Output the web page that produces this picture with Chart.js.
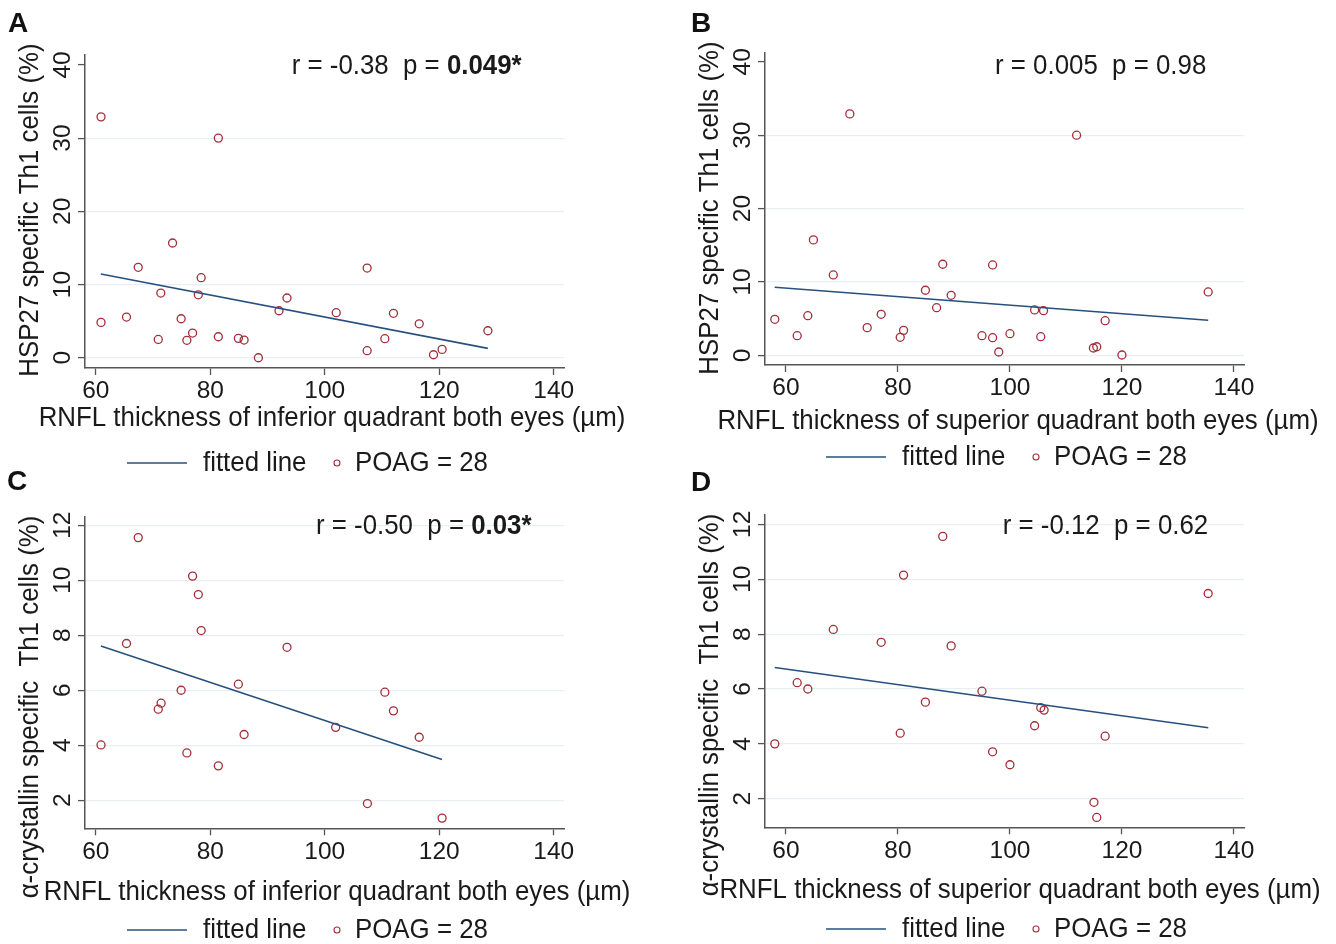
<!DOCTYPE html>
<html>
<head>
<meta charset="utf-8">
<script src="https://cdn.jsdelivr.net/npm/chart.js@4.4.1/dist/chart.umd.min.js"></script>
<style>
  body { margin: 0; background: #fff; width: 1336px; height: 944px; position: relative; overflow: hidden; }
  .panel { position: absolute; width: 668px; height: 478px; }
  .tag { position: absolute; font: bold 28px "Liberation Sans", Arial, sans-serif; line-height: 1; color: #111; }
</style>
</head>
<body>
<div class="panel" style="left:0;top:0"><canvas id="cA"></canvas></div>
<div class="panel" style="left:668px;top:0"><canvas id="cB"></canvas></div>
<div class="panel" style="left:0;top:466px"><canvas id="cC"></canvas></div>
<div class="panel" style="left:668px;top:466px"><canvas id="cD"></canvas></div>
<div class="tag" style="left:8px;top:9px">A</div>
<div class="tag" style="left:691px;top:9px">B</div>
<div class="tag" style="left:7px;top:467px">C</div>
<div class="tag" style="left:691px;top:468px">D</div>
<script>
const FONT = '"Liberation Sans", Arial, Helvetica, sans-serif';
Chart.defaults.font.family = FONT;
Chart.defaults.color = '#1a1a1a';

// --- values ---
const xTicks = [60, 80, 100, 120, 140];
const hspTicks = [0, 10, 20, 30, 40];
const cryTicks = [2, 4, 6, 8, 10, 12];

// A: HSP27 vs inferior RNFL
const infA = [60.9, 60.9, 65.35, 67.4, 70.9, 71.35, 73.4, 74.9, 75.9, 76.9, 77.9, 78.4, 81.4, 81.4,
  84.9, 85.9, 88.4, 92.0, 93.4, 102.0, 107.4, 107.4, 110.5, 112.0, 116.5, 119.0, 120.5, 128.5];
const hspA = [32.9, 4.83, 5.56, 12.35, 2.5, 8.84, 15.67, 5.33, 2.38, 3.37, 8.6, 10.93, 30.0, 2.87,
  2.65, 2.42, 0.0, 6.42, 8.16, 6.15, 12.25, 0.96, 2.6, 6.07, 4.64, 0.41, 1.14, 3.69];
const fitXA = [60.87, 128.5];
const fitYA = [11.43, 1.28];

// B: HSP27 vs superior RNFL
const supB = [58.0, 62.0, 63.9, 64.9, 68.45, 71.4, 74.5, 77.0, 80.4, 81.0, 84.9, 86.9, 88.0, 89.5,
  95.0, 96.9, 96.9, 98.0, 100.0, 104.4, 106.0, 105.5, 111.9, 114.9, 115.5, 117.0, 120.0, 135.4];
const hspB = [4.91, 2.67, 5.4, 15.73, 10.95, 32.9, 3.77, 5.59, 2.45, 3.4, 8.87, 6.49, 12.41, 8.18,
  2.67, 12.32, 2.4, 0.45, 2.95, 6.18, 6.09, 2.54, 30.0, 1.0, 1.17, 4.72, 0.04, 8.64];
const fitXB = [57.98, 135.4];
const fitYB = [9.27, 4.77];

// C: alpha-crystallin vs inferior RNFL
const infC = [60.9, 65.35, 67.4, 70.9, 71.4, 74.9, 75.9, 76.9, 77.9, 78.4, 81.4, 84.9, 85.9, 93.4,
  101.9, 107.45, 110.5, 112.0, 116.5, 120.5];
const cryC = [4.01, 7.70, 11.55, 5.31, 5.53, 6.0, 3.72, 10.15, 9.48, 8.17, 3.25, 6.22, 4.39, 7.56,
  4.65, 1.88, 5.93, 5.25, 4.29, 1.35];
const fitXC = [60.87, 120.49];
const fitYC = [7.61, 3.48];

// D: alpha-crystallin vs superior RNFL
const supD = [58.0, 62.0, 63.9, 68.45, 77.0, 80.4, 81.0, 84.9, 88.0, 89.5, 95.0, 96.9, 100.0, 104.4,
  105.5, 106.1, 115.0, 115.5, 117.0, 135.4];
const cryD = [4.0, 6.23, 6.0, 8.17, 7.70, 4.39, 10.15, 5.52, 11.56, 7.57, 5.92, 3.71, 3.24, 4.66,
  5.32, 5.23, 1.87, 1.32, 4.28, 9.48];
const fitXD = [57.98, 135.42];
const fitYD = [6.78, 4.59];

const xTitleInf = 'RNFL thickness of inferior quadrant both eyes (\u00b5m)';
const xTitleSup = 'RNFL thickness of superior quadrant both eyes (\u00b5m)';
const yTitleHsp = 'HSP27 specific Th1 cells (%)';
const yTitleCry = '\u03b1-crystallin specific  Th1 cells (%)';
const statA = ['r = -0.38  p = ', '0.049*'];
const statB = ['r = 0.005  p = 0.98', ''];
const statC = ['r = -0.50  p = ', '0.03*'];
const statD = ['r = -0.12  p = 0.62', ''];
const seriesLabels = ['fitted line', 'POAG = 28'];

const LINE_COLOR = '#27507e';
const DOT_COLOR = '#a32d38';
const AXIS_COLOR = '#555555';
const GRID_COLOR = '#e6eff1';
const W = 668, H = 478;
const SQ = 0.94;           // the source text is a little narrower than Liberation Sans
const TXT = '27.5px ' + FONT;
const TXT_B = 'bold 27.5px ' + FONT;

const pts = (xs, ys) => xs.map((x, i) => ({ x, y: ys[i] }));

function narrowText(ctx, text, x, y, rot) {
  ctx.save();
  ctx.translate(x, y);
  if (rot) ctx.rotate(rot);
  ctx.scale(SQ, 1);
  ctx.fillText(text, 0, 0);
  ctx.restore();
}

// text that Stata places by hand: rotated y labels, titles, r/p note, legend
const panelText = {
  id: 'panelText',
  afterDraw(chart, args, o) {
    const { ctx, chartArea: a, scales: { y } } = chart;
    const dx = o.ox, dy = o.oy;
    ctx.save();
    ctx.fillStyle = '#1a1a1a';
    ctx.font = '24.5px ' + FONT;
    ctx.textAlign = 'center';
    ctx.textBaseline = 'middle';
    y.ticks.forEach(t => {
      ctx.save();
      ctx.translate(a.left - 22, y.getPixelForValue(t.value));
      ctx.rotate(-Math.PI / 2);
      ctx.fillText(String(t.value), 0, 0);
      ctx.restore();
    });

    ctx.font = TXT;
    narrowText(ctx, o.xTitle, o.xt[0] - dx, o.xt[1] - dy);
    narrowText(ctx, o.yTitle, o.yt[0] - dx, o.yt[1] - dy, -Math.PI / 2);

    ctx.textAlign = 'left';
    ctx.textBaseline = 'alphabetic';
    let sx = o.st[0] - dx;
    narrowText(ctx, o.stat[0], sx, o.st[1] - dy);
    if (o.stat[1]) {
      sx += ctx.measureText(o.stat[0]).width * SQ;
      ctx.font = TXT_B;
      narrowText(ctx, o.stat[1], sx, o.st[1] - dy);
    }

    const lx = o.leg[0] - dx, ly = o.leg[1] - dy;
    const ds = chart.data.datasets;
    ctx.strokeStyle = LINE_COLOR;
    ctx.lineWidth = 1.6;
    ctx.beginPath(); ctx.moveTo(lx, ly); ctx.lineTo(lx + 60, ly); ctx.stroke();
    ctx.font = TXT;
    ctx.textBaseline = 'middle';
    narrowText(ctx, ds[0].label, lx + 76, ly);
    ctx.strokeStyle = DOT_COLOR;
    ctx.lineWidth = 1.1;
    ctx.beginPath(); ctx.arc(lx + 210, ly, 3, 0, Math.PI * 2); ctx.stroke();
    narrowText(ctx, ds[1].label, lx + 228, ly);
    ctx.restore();
  }
};

const panels = [
  { id: 'cA', ox: 0, oy: 0, area: [85, 55, 564, 368], xr: [58.1, 141.8], yr: [-1.4, 41.35],
    yTicks: hspTicks, noGrid: [40], xs: infA, ys: hspA, fx: fitXA, fy: fitYA,
    xTitle: xTitleInf, xt: [332, 418], yTitle: yTitleHsp, yt: [30, 210],
    stat: statA, st: [291.7, 74], leg: [127, 463] },
  { id: 'cB', ox: 668, oy: 0, area: [765, 53, 1244, 365], xr: [56.25, 141.8], yr: [-1.32, 41.2],
    yTicks: hspTicks, noGrid: [40], xs: supB, ys: hspB, fx: fitXB, fy: fitYB,
    xTitle: xTitleSup, xt: [1018, 421], yTitle: yTitleHsp, yt: [710, 208],
    stat: statB, st: [995, 74], leg: [826, 457] },
  { id: 'cC', ox: 0, oy: 466, area: [85, 516.7, 564, 828.3], xr: [58.1, 141.8], yr: [0.98, 12.31],
    yTicks: cryTicks, noGrid: [], xs: infC, ys: cryC, fx: fitXC, fy: fitYC,
    xTitle: xTitleInf, xt: [337, 892], yTitle: yTitleCry, yt: [30, 707],
    stat: statC, st: [316, 534], leg: [127, 930] },
  { id: 'cD', ox: 668, oy: 466, area: [765, 515, 1244, 827.3], xr: [56.25, 141.8], yr: [0.96, 12.34],
    yTicks: cryTicks, noGrid: [], xs: supD, ys: cryD, fx: fitXD, fy: fitYD,
    xTitle: xTitleSup, xt: [1020, 890], yTitle: yTitleCry, yt: [710, 705],
    stat: statD, st: [1002.7, 534], leg: [826, 929] }
];

function buildPanel(p) {
  const [L, T, R, B] = p.area;
  new Chart(document.getElementById(p.id), {
    type: 'scatter',
    data: {
      datasets: [
        { label: seriesLabels[0], data: pts(p.fx, p.fy), showLine: true, borderColor: LINE_COLOR,
          borderWidth: 1.6, pointRadius: 0, fill: false },
        { label: seriesLabels[1], data: pts(p.xs, p.ys), pointRadius: 4, borderWidth: 1.3,
          borderColor: DOT_COLOR, backgroundColor: 'rgba(0,0,0,0)' }
      ]
    },
    options: {
      responsive: true,
      maintainAspectRatio: false,
      animation: false,
      events: [],
      layout: { padding: { left: 0, top: T - p.oy, right: p.ox + W - R, bottom: 0 } },
      plugins: {
        legend: { display: false },
        tooltip: { enabled: false },
        panelText: p
      },
      scales: {
        x: {
          type: 'linear', min: p.xr[0], max: p.xr[1],
          afterBuildTicks: s => { s.ticks = xTicks.map(v => ({ value: v })); },
          afterFit: s => { s.height = p.oy + H - B; },
          grid: { drawOnChartArea: false, tickLength: 7, tickColor: AXIS_COLOR, tickWidth: 1.3 },
          border: { color: AXIS_COLOR, width: 1.5 },
          ticks: { font: { size: 24.5 }, padding: 2, color: '#1a1a1a', maxRotation: 0 }
        },
        y: {
          type: 'linear', min: p.yr[0], max: p.yr[1],
          afterBuildTicks: s => { s.ticks = p.yTicks.map(v => ({ value: v })); },
          afterFit: s => { s.width = L - p.ox; },
          grid: {
            color: c => (c.tick && p.noGrid.includes(c.tick.value)) ? 'rgba(0,0,0,0)' : GRID_COLOR,
            lineWidth: 1.2, tickLength: 7, tickColor: AXIS_COLOR, tickWidth: 1.3
          },
          border: { color: AXIS_COLOR, width: 1.5 },
          ticks: { display: false }
        }
      }
    },
    plugins: [panelText]
  });
}

panels.forEach(buildPanel);
</script>
</body>
</html>
